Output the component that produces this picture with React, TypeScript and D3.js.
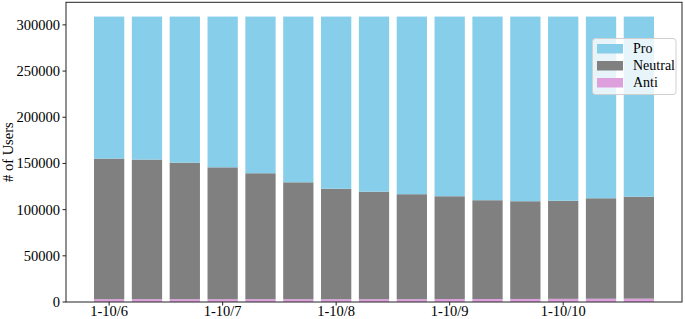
import React from "react";
import { scaleLinear } from "d3";

// days of the week-long window, one bar each
const periods = [
  "1-10/6", "", "", "1-10/7", "", "", "1-10/8", "", "",
  "1-10/9", "", "", "1-10/10", "", "",
];
const anti = [3000, 3000, 3000, 3000, 3000, 3000, 3000, 3000, 3000, 3200, 3200, 3300, 3400, 3500, 3600];
const neutral = [
  152300, 151200, 147900, 142800, 136400, 126600, 119600, 116400,
  113700, 111300, 107000, 105800, 106200, 108800, 110400,
];
const pro = [
  153700, 154800, 158100, 163200, 169600, 179400, 186400, 189600,
  192300, 194500, 198800, 199900, 199400, 196700, 195000,
];
const yTicks = [0, 50000, 100000, 150000, 200000, 250000, 300000];

const series = [
  { name: "Pro", color: "#87ceeb" },
  { name: "Neutral", color: "#808080" },
  { name: "Anti", color: "#dda0dd" },
];

const W = 685;
const H = 319;
const left = 66;
const right = 682;
const top = 2.3;
const bottom = 302;
const font = "'Liberation Serif', 'Times New Roman', serif";

function App() {
  const n = periods.length;
  const maxTotal = Math.max(...periods.map((_, i) => anti[i] + neutral[i] + pro[i]));
  const pad = (n - 1 + 0.8) * 0.05;
  const x = scaleLinear().domain([-0.4 - pad, n - 1 + 0.4 + pad]).range([left, right]);
  const y = scaleLinear().domain([0, maxTotal * 1.05]).range([bottom, top]);
  const bw = x(0.8) - x(0);

  const stacks = periods.map((_, i) => {
    const a = anti[i];
    const nu = a + neutral[i];
    const p = nu + pro[i];
    return [
      { key: "Anti", y0: 0, y1: a, color: series[2].color },
      { key: "Neutral", y0: a, y1: nu, color: series[1].color },
      { key: "Pro", y0: nu, y1: p, color: series[0].color },
    ];
  });

  return (
    <svg width={W} height={H} style={{ position: "absolute", left: 0, top: 0 }}>
      <rect width={W} height={H} fill="white" />
      {stacks.map((segs, i) =>
        segs.map((s) => (
          <rect
            key={i + s.key}
            x={x(i) - bw / 2}
            y={y(s.y1)}
            width={bw}
            height={y(s.y0) - y(s.y1)}
            fill={s.color}
          />
        ))
      )}

      {/* frame */}
      <rect x={left} y={top} width={right - left} height={bottom - top} fill="none" stroke="#222" strokeWidth={1} />

      {/* y axis */}
      {yTicks.map((t) => (
        <g key={t} transform={`translate(0,${y(t)})`}>
          <line x1={left - 3.5} x2={left} stroke="#222" />
          <text x={left - 6} dy="0.34em" textAnchor="end" fontFamily={font} fontSize={14.5} fill="black">
            {t}
          </text>
        </g>
      ))}
      <text
        transform={`translate(13,${(top + bottom) / 2}) rotate(-90)`}
        textAnchor="middle"
        fontFamily={font}
        fontSize={14.5}
        fill="black"
      >
        # of Users
      </text>

      {/* x axis */}
      {periods.map((p, i) =>
        p ? (
          <g key={i} transform={`translate(${x(i)},0)`}>
            <line y1={bottom} y2={bottom + 3.5} stroke="#222" />
            <text y={316} textAnchor="middle" fontFamily={font} fontSize={14.5} fill="black">
              {p}
            </text>
          </g>
        ) : null
      )}

      {/* legend */}
      <rect x={592.5} y={38.5} width={83.5} height={56} rx={3} fill="white" fillOpacity={0.8} stroke="#d0d0d0" />
      {series.map((s, i) => (
        <g key={s.name} transform={`translate(597,${48.5 + i * 17})`}>
          <rect x={0} y={-4.5} width={26} height={9.5} fill={s.color} />
          <text x={36} dy="0.34em" fontFamily={font} fontSize={14} fill="black">
            {s.name}
          </text>
        </g>
      ))}
    </svg>
  );
}

export default App;
